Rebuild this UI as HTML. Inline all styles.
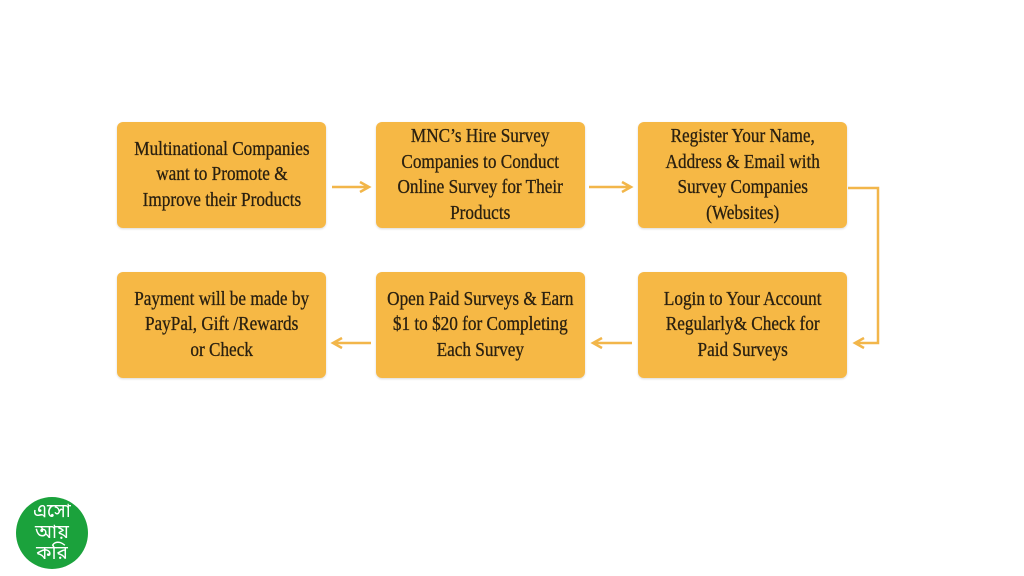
<!DOCTYPE html>
<html><head><meta charset="utf-8"><style>
body{margin:0;width:1024px;height:576px;background:#fff;position:relative;overflow:hidden;font-family:"Liberation Serif",serif}
.b{position:absolute;width:209px;height:106px;background:#f6b845;border-radius:6px;display:flex;align-items:center;justify-content:center;text-align:center;color:#2a2010;font-size:20px;line-height:25.5px;box-shadow:0 1px 2px rgba(0,0,0,.15);-webkit-text-stroke:0.3px #2a2010}
.b span{display:inline-block;transform:scaleX(.86);white-space:nowrap}
.logo{position:absolute;left:16px;top:497px;width:72px;height:72px;border-radius:50%;background:#1ba23c;color:#fff;font-size:19px;line-height:21px;text-align:center;display:flex;align-items:center;justify-content:center;font-family:"Noto Sans Bengali","Lohit Bengali","Liberation Sans",sans-serif}
</style></head><body>
<div class="b" style="left:117px;top:122px"><span>Multinational Companies<br>want to Promote &amp;<br>Improve their Products</span></div>
<div class="b" style="left:376px;top:122px"><span>MNC’s Hire Survey<br>Companies to Conduct<br>Online Survey for Their<br>Products</span></div>
<div class="b" style="left:638px;top:122px"><span>Register Your Name,<br>Address &amp; Email with<br>Survey Companies<br>(Websites)</span></div>
<div class="b" style="left:117px;top:272px"><span>Payment will be made by<br>PayPal, Gift /Rewards<br>or Check</span></div>
<div class="b" style="left:376px;top:272px"><span>Open Paid Surveys &amp; Earn<br>$1 to $20 for Completing<br>Each Survey</span></div>
<div class="b" style="left:638px;top:272px"><span>Login to Your Account<br>Regularly&amp; Check for<br>Paid Surveys</span></div>
<svg width="1024" height="576" style="position:absolute;left:0;top:0" fill="none" stroke="#f2b64a" stroke-width="2.5">
<path d="M332 187H368M360 182L369 187L360 192"/>
<path d="M589 187H630M622 182L631 187L622 192"/>
<path d="M848 188H878V343H856M864 338L855 343L864 348"/>
<path d="M632 343H594M602 338L593 343L602 348"/>
<path d="M371 343H334M342 338L333 343L342 348"/>
</svg>
<div class="logo">এসো<br>আয়<br>করি</div>
</body></html>
